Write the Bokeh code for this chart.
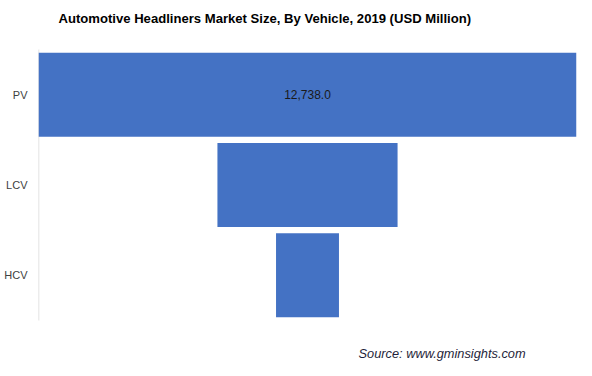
from bokeh.plotting import figure
from bokeh.models import ColumnDataSource, Label, Range1d, FactorRange
from bokeh.embed import file_html
from bokeh.resources import INLINE

categories = ["PV", "LCV", "HCV"]
values = [12738.0, 4265.0, 1490.0]
value_labels = ["12,738.0", "", ""]

title_text = "Automotive Headliners Market Size, By Vehicle, 2019 (USD Million)"
source_text = "Source: www.gminsights.com"

half = max(values) / 2.0
src = ColumnDataSource(dict(
    cat=categories,
    left=[-v / 2.0 for v in values],
    right=[v / 2.0 for v in values],
    mid=[0.0 for v in values],
    lab=value_labels,
))

p = figure(width=592, height=376, output_backend="svg", toolbar_location=None,
           x_axis_location=None,
           y_range=FactorRange(factors=categories[::-1], range_padding=0.3617),
           x_range=Range1d(-half, half),
           min_border_left=38, min_border_right=16, min_border_top=0, min_border_bottom=7)
p.outline_line_color = None
p.background_fill_color = "white"
p.border_fill_color = "white"
p.grid.visible = False

ya = p.yaxis[0]
ya.axis_line_color = None
ya.major_tick_line_color = None
ya.minor_tick_line_color = None
ya.major_label_text_font = "Liberation Sans"
ya.major_label_text_font_size = "11px"
ya.major_label_text_color = "#404040"
ya.major_label_standoff = 5

# axis line spanning only the category bands
p.segment(x0=[-half], x1=[-half], y0=[(categories[-1], -0.5)], y1=[(categories[0], 0.5)],
          line_color="#d9d9d9", line_width=1.5)

p.hbar(y="cat", left="left", right="right", height=0.93, source=src,
       fill_color="#4472C4", line_color=None)
p.text(x="mid", y="cat", text="lab", source=src, text_align="center",
       text_baseline="middle", text_font_size="12px", text_color="#1a1a1a",
       text_font={"value": "Liberation Sans"})

p.add_layout(Label(x=20, y=351, x_units="screen", y_units="screen", text=title_text,
                   text_font="Liberation Sans", text_font_style="bold",
                   text_font_size="13.1px", text_color="#000000",
                   text_baseline="middle", text_align="left"))
p.add_layout(Label(x=320, y=16, x_units="screen", y_units="screen", text=source_text,
                   text_font="Liberation Sans", text_font_style="italic",
                   text_font_size="12.8px", text_color="#1f1f3a",
                   text_baseline="middle", text_align="left"))

open("out.html", "w").write(file_html(p, INLINE))
